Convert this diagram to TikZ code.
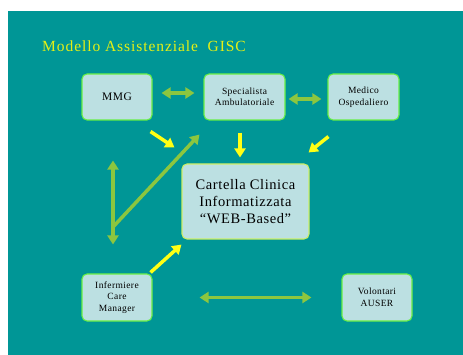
\documentclass[tikz,border=0pt]{standalone}
\usepackage{fontspec}
\setmainfont{Liberation Serif}
\newfontfamily\spaced[LetterSpace=4]{Liberation Serif}
\newfontfamily\headline[LetterSpace=6]{Liberation Serif}
\usetikzlibrary{arrows.meta,calc}
\definecolor{teal0}{RGB}{0,150,150}
\definecolor{boxfill}{RGB}{188,224,226}
\definecolor{boxline}{RGB}{102,238,68}
\definecolor{cardline}{RGB}{204,238,102}
\definecolor{garrowc}{RGB}{140,198,63}
\definecolor{yarrowc}{RGB}{255,255,20}
\definecolor{titlec}{RGB}{230,240,20}
\tikzset{
  actor/.style={draw=boxline, line width=1.1pt, fill=boxfill, rounded corners=5pt,
    align=center, inner sep=0pt, font=\spaced\fontsize{9.5}{11.5}\selectfont, text=black},
  record/.style={draw=cardline, line width=1.1pt, fill=boxfill, rounded corners=5pt,
    align=center, inner sep=0pt, font=\spaced\fontsize{14.5}{17}\selectfont, text=black},
  gboth/.style={draw=garrowc, line width=3.5pt, {Triangle[length=9pt,width=11pt]}-{Triangle[length=9pt,width=11pt]}},
  gone/.style={draw=garrowc, line width=3.5pt, -{Triangle[length=9pt,width=11pt]}},
  yone/.style={draw=yarrowc, line width=3.5pt, -{Triangle[length=9pt,width=11pt]}},
}
\begin{document}
\begin{tikzpicture}[x=1pt,y=-1pt]
\useasboundingbox (0,0) rectangle (463,355);
\fill[white] (0,0) rectangle (463,355);
\fill[teal0] (8,11) rectangle (463,355);

\node[anchor=base west, inner sep=0pt, text=titlec, font=\headline\fontsize{15.5}{18}\selectfont] (title) at (42,52) {Modello Assistenziale\ \ GISC};

\node[actor, minimum width=70pt, minimum height=46pt] (mmg) at (117,97) {\fontsize{11.5}{13}\selectfont MMG};
\node[actor, minimum width=81pt, minimum height=46pt] (spec) at (244.5,97) {Specialista\\Ambulatoriale};
\node[actor, minimum width=71pt, minimum height=46pt] (med) at (363.5,97) {Medico\\Ospedaliero};
\node[record, minimum width=127pt, minimum height=75pt] (card) at (245.5,201.5) {Cartella Clinica\\Informatizzata\\“WEB-Based”};
\node[actor, minimum width=70pt, minimum height=47pt] (inf) at (117,297.5) {Infermiere\\Care\\Manager};
\node[actor, minimum width=70pt, minimum height=47pt] (vol) at (377,297.5) {Volontari\\AUSER};

% exchanges between the actors
\draw[gboth] ($(mmg.east)+(9,-4)$) -- ($(spec.west)+(-9,-4)$);
\draw[gboth] ($(spec.east)+(3,2)$) -- ($(med.west)+(-6,2)$);
\draw[gboth] ($(mmg.south)+(-4,40)$) -- ($(inf.north)+(-4,-29)$);
\draw[gboth] ($(inf.east)+(47,0)$) -- ($(vol.west)+(-30,0)$);
\coordinate (v) at (113,227);
\draw[gone] (v) -- ($(spec.south west)+(-4,14)$);

% everyone writes into the shared record
\draw[yone] ($(mmg.south east)+(-2,11)$) -- ($(card.north west)+(-7,-16)$);
\draw[yone] ($(spec.south)+(-4.5,12)$) -- ($(card.north)+(-5.5,-6)$);
\draw[yone] ($(med.south west)+(1,16)$) -- ($(card.north east)+(-1,-11)$);
\draw[yone] ($(inf.north east)+(-2,-1)$) -- ($(card.south west)+(0,5)$);
\end{tikzpicture}
\end{document}
